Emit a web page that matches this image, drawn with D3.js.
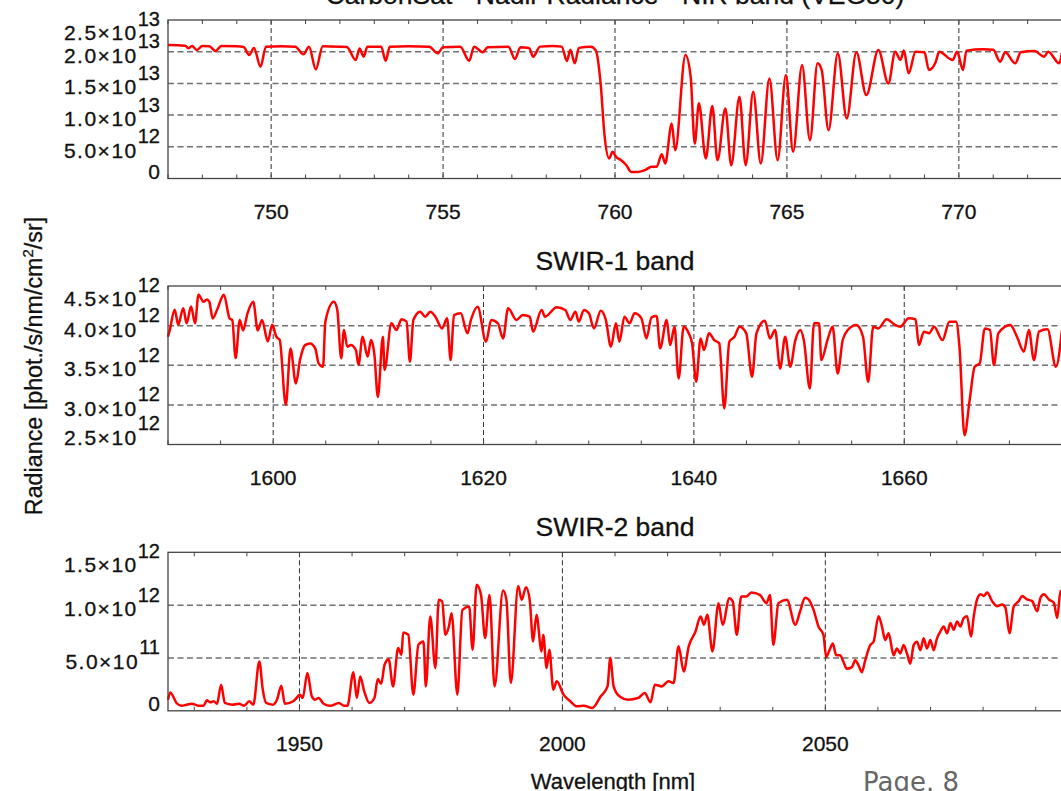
<!DOCTYPE html>
<html>
<head>
<meta charset="utf-8">
<script src="https://cdn.jsdelivr.net/npm/d3@7"></script>
<style>
  body { margin: 0; background: #fff; overflow: hidden; }
  text { font-family: "Liberation Sans", Arial, Helvetica, sans-serif; fill: #111; }
</style>
</head>
<body>
<div id="chart"></div>
<script>
// radiance values are in units of 1e12 phot./s/nm/cm2/sr

// NIR band (O2 A-band)
const nirWave = [747.0,747.3,747.5,747.59,747.7,747.84,748.0,748.2,748.38,748.55,749.0,749.2,749.36,749.5,749.69,749.85,
  750.3,750.7,750.94,751.1,751.3,751.5,752.0,752.2,752.46,752.57,752.69,752.8,753.2,753.33,753.45,754.0,754.6,754.84,
  755.0,755.5,755.76,755.9,756.15,756.3,756.9,757.09,757.25,757.5,757.62,757.82,758.2,758.45,758.6,758.7,758.83,758.95,
  759.3,759.44,759.59,759.69,759.83,759.93,760.03,760.18,760.33,760.47,760.67,760.87,761.06,761.21,761.36,761.46,761.65,
  761.75,762.05,762.2,762.32,762.44,762.64,762.83,762.98,763.21,763.38,763.62,763.8,764.02,764.24,764.49,764.73,764.97,
  765.18,765.44,765.67,765.89,766.01,766.21,766.48,766.74,767.02,767.31,767.66,767.95,768.15,768.3,768.4,768.54,768.74,
  769.0,769.13,769.33,769.43,769.82,769.95,770.12,770.22,770.7,771.0,771.2,771.35,771.64,771.8,772.2,772.48,772.6,772.92,773.0];
const nirRad = [21.06,21.0,20.95,20.53,20.9,20.27,20.9,20.85,20.11,20.9,20.85,20.75,19.49,20.6,17.63,20.8,
  20.85,20.8,19.58,20.8,17.21,20.85,20.8,20.75,18.69,20.5,19.22,20.8,20.8,18.58,20.8,20.85,20.8,19.74,
  20.7,20.8,18.58,20.8,19.9,20.7,20.8,18.85,20.7,20.6,19.22,20.8,20.9,20.8,18.54,20.3,18.16,20.6,
  20.8,20.2,14.48,7.11,3.15,4.21,3.41,2.88,2.1,1.04,1.04,1.31,1.84,1.84,3.84,2.37,8.68,
  4.47,19.49,16.06,5.5,11.85,3.15,11.43,2.88,11.05,2.1,12.89,2.1,13.69,2.37,15.79,2.88,16.32,
  4.21,17.9,6.05,18.16,17.12,7.62,19.74,9.48,19.9,13.16,20.27,15.0,20.0,18.69,20.17,16.59,20.0,
  19.9,17.12,18.43,20.0,18.69,20.0,17.12,20.17,20.4,20.3,18.43,19.9,18.16,19.9,20.1,19.22,20.0,18.16,19.9];

// SWIR-1 band
const swir1Wave = [1590.0,1590.16,1590.64,1590.97,1591.45,1591.77,1592.19,1592.57,1592.9,1593.38,1593.7,1593.93,1594.25,
  1594.67,1595.31,1595.86,1596.11,1596.43,1596.82,1597.14,1597.56,1598.11,1598.53,1598.94,1599.49,1599.91,1600.3,1600.62,
  1601.2,1601.65,1602.16,1602.55,1603.03,1603.51,1604.0,1604.32,1604.74,1604.96,1605.77,1606.09,1606.47,1606.73,1607.05,
  1607.37,1607.86,1608.11,1608.5,1608.98,1609.3,1609.63,1609.95,1610.43,1610.59,1611.24,1611.72,1612.2,1612.68,1613.0,
  1613.33,1613.97,1614.45,1614.94,1615.42,1616.06,1616.54,1616.87,1617.19,1617.83,1618.47,1618.8,1619.44,1620.24,1620.73,
  1621.37,1621.85,1622.34,1623.14,1623.72,1624.39,1624.71,1625.52,1625.84,1626.96,1627.77,1628.25,1628.73,1629.06,1629.54,
  1630.02,1630.5,1631.15,1631.63,1632.11,1632.59,1632.92,1633.4,1633.88,1634.36,1635.01,1635.49,1635.97,1636.46,1636.78,
  1637.42,1637.74,1638.16,1638.55,1639.03,1639.51,1639.83,1640.22,1640.64,1640.96,1641.44,1641.93,1642.41,1642.89,1643.37,
  1643.86,1644.34,1644.98,1645.53,1645.95,1646.75,1647.23,1647.72,1648.2,1648.68,1649.16,1649.65,1650.13,1650.45,1651.03,
  1651.42,1651.9,1652.12,1652.7,1653.19,1653.67,1654.15,1654.63,1655.44,1656.08,1656.57,1657.05,1657.53,1658.33,1659.14,
  1659.62,1660.43,1661.07,1661.39,1661.87,1662.36,1662.84,1663.64,1664.29,1664.93,1665.25,1665.73,1666.22,1666.7,1667.18,
  1667.66,1668.15,1668.53,1668.95,1670.08,1670.72,1671.37,1671.85,1672.33,1672.81,1673.62,1674.42,1675.0];
const swir1Rad = [3.86,3.94,4.2,4.01,4.22,4.03,4.24,4.03,4.39,4.3,4.33,4.3,4.09,
  4.2,4.39,4.09,4.07,3.59,4.07,3.94,4.155,4.3,3.94,4.07,3.8,4.01,3.86,3.82,
  3.0,3.71,3.27,3.565,3.754,3.776,3.713,3.524,3.48,4.05,4.3,4.2,3.586,3.944,3.734,
  3.754,3.692,3.503,3.86,3.607,3.818,3.628,3.1,3.86,3.44,4.03,3.944,4.08,4.05,3.545,
  4.07,4.176,4.113,4.176,4.113,3.965,4.092,3.565,4.134,4.155,3.903,4.071,4.239,3.797,4.071,
  4.029,3.839,4.218,4.071,4.134,4.113,3.924,4.197,4.113,4.231,4.197,4.071,4.176,4.05,4.197,
  4.155,3.965,4.188,4.071,3.734,4.029,3.797,4.113,4.029,4.155,4.092,3.839,4.105,4.121,3.713,
  4.071,3.754,3.986,3.334,3.986,3.903,3.776,3.292,3.839,3.692,3.903,3.818,3.776,2.955,3.797,
  3.86,3.986,3.903,3.355,3.903,4.062,3.839,3.944,3.46,3.86,3.481,3.818,3.944,3.818,3.207,
  4.029,4.029,3.565,3.818,3.986,3.397,3.818,3.944,4.008,3.86,3.292,3.986,3.965,4.08,4.008,
  3.986,4.092,4.08,3.754,3.924,3.903,3.986,3.818,4.05,4.05,3.734,2.617,3.06,3.481,3.524,
  3.965,3.944,3.503,3.903,4.008,3.86,3.671,3.944,3.565,3.924,3.953,3.481,3.944];

// SWIR-2 band
const swir2Wave = [1925.0,1925.45,1925.97,1926.61,1927.57,1928.54,1929.5,1930.79,1931.76,1932.4,1933.04,1933.69,1934.33,
  1935.1,1935.81,1937.23,1938.51,1939.48,1940.44,1941.22,1942.37,1943.02,1943.66,1944.95,1945.72,1946.56,1947.2,1948.81,
  1949.45,1950.1,1950.61,1951.51,1952.35,1952.99,1953.64,1954.6,1955.89,1957.5,1958.46,1959.11,1960.26,1960.91,1961.55,
  1962.32,1963.29,1964.25,1964.9,1965.54,1966.18,1966.96,1967.79,1968.76,1969.4,1969.72,1970.69,1971.65,1972.62,1973.58,
  1974.03,1974.87,1975.84,1976.48,1977.12,1977.77,1978.41,1978.93,1980.02,1980.98,1982.27,1982.92,1983.69,1984.52,1985.3,
  1986.13,1987.1,1988.71,1989.35,1990.19,1991.6,1992.25,1993.08,1993.78,1994.42,1995.07,1996.03,1996.35,1997.0,1997.51,
  1998.28,1998.93,2000.21,2001.5,2002.79,2004.08,2005.68,2007.29,2008.58,2009.1,2009.74,2010.83,2012.44,2014.37,2015.66,
  2016.75,2017.59,2018.88,2020.16,2021.13,2022.09,2023.06,2024.02,2025.31,2026.28,2026.92,2027.56,2028.53,2029.69,2030.46,
  2031.75,2032.39,2033.16,2034.0,2034.96,2035.93,2037.54,2038.82,2039.47,2040.11,2041.08,2042.69,2044.29,
  2045.2,2046.15,2046.79,2047.74,2048.69,2049.64,2050.15,2050.91,2051.42,2052.06,2052.82,2053.45,2054.09,2055.04,
  2055.68,2056.31,2056.95,2057.58,2058.53,2059.17,2060.12,2060.76,2061.39,2062.03,2062.98,2063.61,2064.25,2064.88,
  2065.52,2066.15,2066.79,2067.42,2068.06,2068.69,2069.33,2069.96,2070.6,2071.23,2071.87,2072.5,2073.14,2073.77,
  2074.41,2075.04,2075.68,2076.31,2076.95,2077.71,2078.22,2078.85,2079.49,2080.12,2080.76,2081.71,2082.66,2083.61,
  2084.25,2085.01,2085.83,2086.79,2087.42,2088.37,2089.33,2090.28,2090.91,2091.55,2092.5,2093.45,2094.09,2094.72,2095.0];
const swir2Rad = [0.105,0.174,0.137,0.074,0.048,0.058,0.067,0.048,0.048,0.099,0.08,0.09,0.067,
  0.247,0.074,0.058,0.067,0.048,0.09,0.058,0.467,0.2,0.074,0.058,0.105,0.238,0.067,0.09,
  0.121,0.153,0.121,0.357,0.137,0.105,0.121,0.067,0.048,0.074,0.048,0.048,0.364,0.121,0.325,
  0.184,0.074,0.121,0.3,0.256,0.436,0.489,0.231,0.594,0.53,0.741,0.72,0.153,0.625,0.656,
  0.231,0.893,0.405,1.05,1.035,0.72,0.798,0.924,0.153,0.956,0.987,0.578,1.192,1.097,0.688,
  1.097,0.231,1.138,1.05,0.263,1.182,1.05,1.17,1.05,0.656,0.908,0.562,0.72,0.405,0.578,
  0.2,0.279,0.153,0.09,0.042,0.048,0.027,0.137,0.231,0.499,0.231,0.137,0.105,0.121,0.169,
  0.08,0.247,0.231,0.279,0.263,0.61,0.373,0.61,0.751,0.893,0.814,0.908,0.562,1.019,0.814,
  1.066,1.035,0.72,1.081,1.081,1.12,1.097,1.019,1.097,0.625,1.019,1.05,0.814,
  0.942,1.07,1.054,0.958,0.798,0.718,0.51,0.59,0.638,0.526,0.526,0.462,0.397,0.413,
  0.478,0.43,0.365,0.478,0.622,0.654,0.894,0.798,0.67,0.734,0.526,0.59,0.542,0.622,
  0.542,0.446,0.622,0.654,0.574,0.686,0.59,0.67,0.574,0.686,0.75,0.798,0.734,0.83,
  0.766,0.846,0.798,0.878,0.894,0.702,0.894,1.054,1.103,1.087,1.119,1.038,0.99,1.006,
  0.974,0.734,0.99,1.038,1.087,1.054,1.038,0.942,1.07,1.103,1.054,1.022,0.878,1.135,1.1];

// axis ticks and labels
const nirXTicks = [750, 755, 760, 765, 770];
const swir1XTicks = [1600, 1620, 1640, 1660];
const swir2XTicks = [1950, 2000, 2050];
const nirYTicks = [0, 5, 10, 15, 20, 25];
const nirYMant = ["0", "5.0", "1.0", "1.5", "2.0", "2.5"];
const nirYExp = ["", "12", "13", "13", "13", "13"];
const swir1YTicks = [2.5, 3.0, 3.5, 4.0, 4.5];
const swir1YMant = ["2.5", "3.0", "3.5", "4.0", "4.5"];
const swir1YExp = ["12", "12", "12", "12", "12"];
const swir2YTicks = [0, 0.5, 1.0, 1.5];
const swir2YMant = ["0", "5.0", "1.0", "1.5"];
const swir2YExp = ["", "11", "12", "12"];

const width = 1061, height = 791;
const plotLeft = 168, plotRight = 1062, panelH = 158.5;

const panels = [
  {title: "CarbonSat - Nadir Radiance - NIR band (VEG50)", top: 20, wave: nirWave, rad: nirRad,
   xDomain: [747, 773], xTicks: nirXTicks, xMinor: 1, yDomain: [0, 25], yTicks: nirYTicks, yMant: nirYMant, yExp: nirYExp},
  {title: "SWIR-1 band", top: 286, wave: swir1Wave, rad: swir1Rad,
   xDomain: [1590, 1675], xTicks: swir1XTicks, xMinor: 5, yDomain: [2.5, 4.5], yTicks: swir1YTicks, yMant: swir1YMant, yExp: swir1YExp},
  {title: "SWIR-2 band", top: 552.3, wave: swir2Wave, rad: swir2Rad,
   xDomain: [1925, 2095], xTicks: swir2XTicks, xMinor: 10, yDomain: [0, 1.5], yTicks: swir2YTicks, yMant: swir2YMant, yExp: swir2YExp}
];

const svg = d3.select("#chart")
  .append("svg")
    .attr("width", width)
    .attr("height", height);

panels.forEach(function(p) {
  const bottom = p.top + panelH;
  const x = d3.scaleLinear().domain(p.xDomain).range([plotLeft, plotRight]);
  const y = d3.scaleLinear().domain(p.yDomain).range([bottom, p.top]);
  const g = svg.append("g");

  // horizontal grid lines
  g.selectAll(".hgrid")
    .data(p.yTicks.filter(v => v > p.yDomain[0] && v < p.yDomain[1]))
    .enter().append("line")
      .attr("x1", plotLeft).attr("x2", plotRight)
      .attr("y1", d => y(d)).attr("y2", d => y(d))
      .attr("stroke", "#707070").attr("stroke-width", 1.5)
      .attr("stroke-dasharray", "6,3.5");

  // vertical grid lines at the major ticks
  g.selectAll(".vgrid")
    .data(p.xTicks)
    .enter().append("line")
      .attr("x1", d => x(d)).attr("x2", d => x(d))
      .attr("y1", p.top).attr("y2", bottom)
      .attr("stroke", "#333").attr("stroke-width", 1)
      .attr("stroke-dasharray", "5,3");

  // minor ticks, top and bottom
  const minor = d3.range(Math.ceil(p.xDomain[0] / p.xMinor) * p.xMinor, p.xDomain[1] + 1e-9, p.xMinor);
  g.selectAll(".mtop")
    .data(minor)
    .enter().append("line")
      .attr("x1", d => x(d)).attr("x2", d => x(d))
      .attr("y1", p.top).attr("y2", p.top + 4)
      .attr("stroke", "#444").attr("stroke-width", 1);
  g.selectAll(".mbot")
    .data(minor)
    .enter().append("line")
      .attr("x1", d => x(d)).attr("x2", d => x(d))
      .attr("y1", bottom).attr("y2", bottom - 4)
      .attr("stroke", "#444").attr("stroke-width", 1);

  // the spectrum
  const line = d3.line()
    .x((d, i) => x(p.wave[i]))
    .y(d => y(d))
    .curve(d3.curveMonotoneX);
  g.append("path")
    .datum(p.rad)
    .attr("d", line)
    .attr("fill", "none")
    .attr("stroke", "#ff0000")
    .attr("stroke-width", 2.5)
    .attr("stroke-linejoin", "round");

  // frame
  g.append("rect")
    .attr("x", plotLeft).attr("y", p.top)
    .attr("width", plotRight - plotLeft).attr("height", panelH)
    .attr("fill", "none").attr("stroke", "#444").attr("stroke-width", 1.3);

  // x tick labels
  g.selectAll(".xlab")
    .data(p.xTicks)
    .enter().append("text")
      .attr("x", d => x(d))
      .attr("y", bottom + 40.5)
      .attr("text-anchor", "middle")
      .attr("font-size", 21)
      .style("stroke", "#111").style("stroke-width", 0.3)
      .text(d => d);

  // y tick labels, mantissa x 10^exp
  p.yTicks.forEach(function(v, i) {
    const off = i === 0 ? 0 : (i === p.yTicks.length - 1 ? 20 : 11);
    const t = g.append("text")
      .attr("x", 160)
      .attr("y", y(v) + off)
      .attr("text-anchor", "end")
      .attr("font-size", 21)
      .style("stroke", "#111").style("stroke-width", 0.3);
    if (p.yExp[i]) {
      t.append("tspan").attr("letter-spacing", 1.5).text(p.yMant[i] + "\u00d710");
      t.append("tspan").attr("dy", -14.5).attr("font-size", 20).text(p.yExp[i]);
    } else {
      t.append("tspan").text(p.yMant[i]);
    }
  });

  // panel title
  g.append("text")
    .attr("x", (plotLeft + plotRight) / 2)
    .attr("y", p.top - 16)
    .attr("text-anchor", "middle")
    .attr("font-size", 26.5)
    .style("stroke", "#111").style("stroke-width", 0.3)
    .text(p.title);
});

// y axis title
const yTitle = svg.append("text")
  .attr("transform", "translate(42,366) rotate(-90)")
  .attr("text-anchor", "middle")
  .attr("font-size", 23.3)
  .style("stroke", "#111").style("stroke-width", 0.3);
yTitle.append("tspan").text("Radiance [phot./s/nm/cm");
yTitle.append("tspan").attr("dy", -9).attr("font-size", 15).text("2");
yTitle.append("tspan").attr("dy", 9).text("/sr]");

// x axis title
svg.append("text")
  .attr("x", 613)
  .attr("y", 789)
  .attr("text-anchor", "middle")
  .attr("font-size", 22)
  .style("stroke", "#111").style("stroke-width", 0.3)
  .text("Wavelength [nm]");

// page number
svg.append("text")
  .attr("x", 863)
  .attr("y", 791)
  .attr("font-size", 26)
  .style("font-family", "'DejaVu Sans', sans-serif")
  .style("fill", "#666")
  .text("Page. 8");
</script>
</body>
</html>
